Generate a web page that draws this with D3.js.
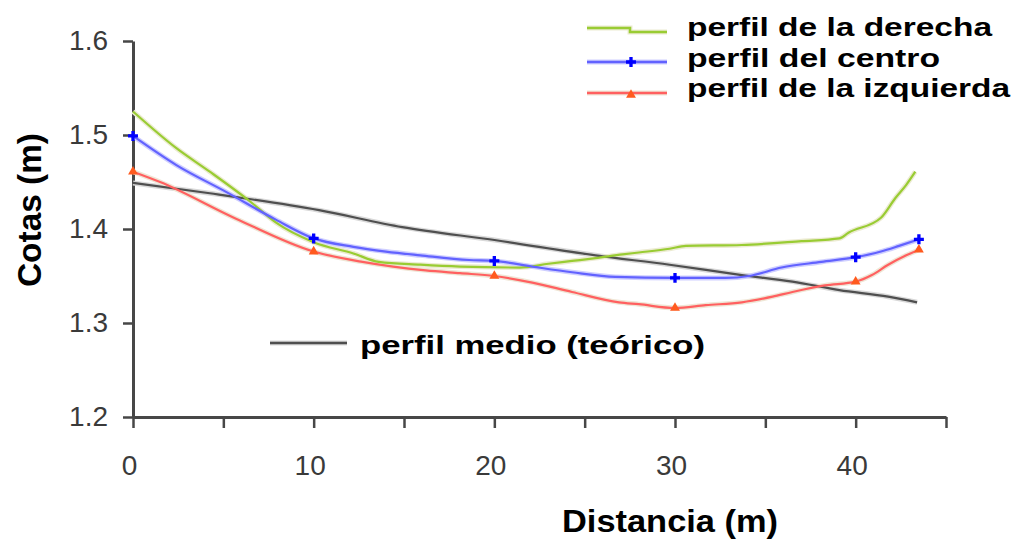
<!DOCTYPE html>
<html>
<head>
<meta charset="utf-8">
<script src="https://cdn.jsdelivr.net/npm/d3@7"></script>
<style>
  html, body { margin: 0; padding: 0; background: #ffffff; }
  svg { display: block; }
  text { font-family: "Liberation Sans", Arial, sans-serif; }
</style>
</head>
<body>
<svg id="chart" width="1012" height="541"></svg>
<script>
// ---- data ----
const xTickValues = [0, 5, 10, 15, 20, 25, 30, 35, 40, 45];
const xTickLabels = ["0", "", "10", "", "20", "", "30", "", "40", ""];
const yTickValues = [1.2, 1.3, 1.4, 1.5, 1.6];
const yTickLabels = ["1.2", "1.3", "1.4", "1.5", "1.6"];

// perfil de la derecha (green)
const distDerecha = [0, 2.4, 4.25, 6.5, 7.9, 10, 12.2, 13.6, 15.9, 18.1, 21.4, 23, 24.3, 25.6, 27.1, 28, 29.7, 30.6, 33.7, 37, 39.1, 39.6, 41.4, 42.2, 42.8, 43.3];
const cotaDerecha = [1.525, 1.486, 1.461, 1.429, 1.407, 1.386, 1.374, 1.365, 1.362, 1.360, 1.359, 1.363, 1.366, 1.369, 1.373, 1.375, 1.379, 1.382, 1.383, 1.387, 1.390, 1.396, 1.412, 1.433, 1.447, 1.461];

// perfil del centro (blue)
const distCentro = [0, 2.4, 5.2, 7.9, 10, 12.2, 14, 15.9, 18.6, 20, 22.1, 24.3, 26.7, 30, 32.8, 34.1, 35.9, 38.1, 40, 41.4, 42.4, 43.5];
const cotaCentro = [1.499, 1.468, 1.439, 1.410, 1.390, 1.381, 1.376, 1.372, 1.367, 1.366, 1.360, 1.354, 1.349, 1.348, 1.348, 1.350, 1.359, 1.365, 1.370, 1.376, 1.382, 1.389];
const markDistCentro = [0, 10, 20, 30, 40, 43.5];
const markCotaCentro = [1.499, 1.390, 1.366, 1.348, 1.370, 1.389];

// perfil de la izquierda (red)
const distIzquierda = [0, 1.5, 5.7, 10, 12.7, 14.4, 16.2, 18.1, 20, 22.1, 24.3, 26.9, 28, 30, 31.7, 33.7, 35.4, 36.5, 38.3, 40, 40.9, 41.8, 42.8, 43.5];
const cotaIzquierda = [1.461, 1.450, 1.411, 1.376, 1.365, 1.360, 1.356, 1.353, 1.350, 1.343, 1.333, 1.322, 1.320, 1.316, 1.319, 1.322, 1.328, 1.333, 1.340, 1.344, 1.351, 1.362, 1.372, 1.378];
const markDistIzquierda = [0, 10, 20, 30, 40, 43.5];
const markCotaIzquierda = [1.461, 1.376, 1.350, 1.316, 1.344, 1.378];

// perfil medio (teórico) (dark grey)
const distMedio = [0, 4.25, 10.3, 14.9, 20.1, 25.6, 29.7, 33.7, 36.5, 39.1, 41.8, 43.4];
const cotaMedio = [1.449, 1.438, 1.420, 1.402, 1.388, 1.372, 1.362, 1.351, 1.344, 1.335, 1.328, 1.322];

const legendLabels = ["perfil de la derecha", "perfil del centro", "perfil de la izquierda"];
const medioLabel = "perfil medio (teórico)";
const xTitle = "Distancia (m)";
const yTitle = "Cotas (m)";

// ---- drawing ----
const svg = d3.select("#chart");
svg.append("rect").attr("width", 1012).attr("height", 541).attr("fill", "#ffffff");

const x = d3.scaleLinear().domain([0, 45]).range([133, 946]);
const y = d3.scaleLinear().domain([1.2, 1.6]).range([417, 41]);

const axisColor = "#474747";

// y axis
const yAxis = svg.append("g").attr("transform", "translate(133,0)")
  .call(d3.axisLeft(y).tickValues(yTickValues)
        .tickFormat((d, i) => yTickLabels[i]).tickSize(10).tickSizeOuter(0).tickPadding(15));
// x axis
const xAxis = svg.append("g").attr("transform", "translate(0,417)")
  .call(d3.axisBottom(x).tickValues(xTickValues)
        .tickFormat((d, i) => xTickLabels[i]).tickSize(11).tickSizeOuter(0).tickPadding(27));

[xAxis, yAxis].forEach(g => {
  g.select(".domain").attr("stroke", axisColor).attr("stroke-width", 3);
  g.selectAll(".tick line").attr("stroke", axisColor).attr("stroke-width", 2.5);
  g.selectAll(".tick text").attr("fill", "#3a3a3a")
    .style("font-family", "'Liberation Sans', Arial, sans-serif").style("font-size", "28px");
});
xAxis.selectAll(".tick text").attr("dx", "-4");

// axis titles
svg.append("text")
  .attr("transform", "translate(41,210) rotate(-90)")
  .attr("text-anchor", "middle")
  .attr("font-size", 33).attr("font-weight", "bold").attr("fill", "#000")
  .attr("textLength", 154).attr("lengthAdjust", "spacingAndGlyphs")
  .text(yTitle);
svg.append("text")
  .attr("x", 562).attr("y", 532)
  .attr("font-size", 32).attr("font-weight", "bold").attr("fill", "#000")
  .attr("textLength", 216).attr("lengthAdjust", "spacingAndGlyphs")
  .text(xTitle);

// series
const line = d3.line().x(d => x(d[0])).y(d => y(d[1])).curve(d3.curveMonotoneX);
const zip = (a, b) => a.map((v, i) => [v, b[i]]);

const series = [
  { pts: zip(distMedio, cotaMedio), color: "#4f4f4f", halo: "#d9d9d9" },
  { pts: zip(distIzquierda, cotaIzquierda), color: "#ff6060", halo: "#efe6d6" },
  { pts: zip(distDerecha, cotaDerecha), color: "#99cc33", halo: "#ecebd2" },
  { pts: zip(distCentro, cotaCentro), color: "#6262ff", halo: "#cfcfff" }
];
series.forEach(s => {
  svg.append("path").attr("d", line(s.pts)).attr("fill", "none")
    .attr("stroke", s.halo).attr("stroke-width", 5).attr("stroke-linejoin", "round");
});
series.forEach(s => {
  svg.append("path").attr("d", line(s.pts)).attr("fill", "none")
    .attr("stroke", s.color).attr("stroke-width", 2.2).attr("stroke-linejoin", "round");
});

const crossSym = d3.symbol(d3.symbolCross).size(55);
const triSym = d3.symbol(d3.symbolTriangle).size(42);

svg.append("g").selectAll("path").data(zip(markDistIzquierda, markCotaIzquierda)).join("path")
  .attr("transform", d => `translate(${x(d[0])},${y(d[1])})`)
  .attr("d", triSym).attr("fill", "#ff5a1e");
svg.append("g").selectAll("path").data(zip(markDistCentro, markCotaCentro)).join("path")
  .attr("transform", d => `translate(${x(d[0])},${y(d[1])})`)
  .attr("d", crossSym).attr("fill", "#0000ff");

// legend (top right)
const lg = svg.append("g");
// green
lg.append("path").attr("d", "M587,28 H630 V32 H667").attr("fill", "none")
  .attr("stroke", "#ecebd2").attr("stroke-width", 5);
lg.append("path").attr("d", "M587,28 H630 V32 H667").attr("fill", "none")
  .attr("stroke", "#99cc33").attr("stroke-width", 2.5);
// blue
lg.append("line").attr("x1", 587).attr("x2", 667).attr("y1", 62).attr("y2", 62)
  .attr("stroke", "#cfcfff").attr("stroke-width", 5);
lg.append("line").attr("x1", 587).attr("x2", 667).attr("y1", 62).attr("y2", 62)
  .attr("stroke", "#6262ff").attr("stroke-width", 2.5);
lg.append("path").attr("transform", "translate(631,62)").attr("d", crossSym).attr("fill", "#0000ff");
// red
lg.append("line").attr("x1", 587).attr("x2", 667).attr("y1", 93).attr("y2", 93)
  .attr("stroke", "#efe6d6").attr("stroke-width", 5);
lg.append("line").attr("x1", 587).attr("x2", 667).attr("y1", 93).attr("y2", 93)
  .attr("stroke", "#ff6060").attr("stroke-width", 2.5);
lg.append("path").attr("transform", "translate(631,95)").attr("d", triSym).attr("fill", "#ff5a1e");

const legendBaselines = [36, 67, 97];
const legendWidths = [305, 253, 323];
legendLabels.forEach((t, i) => {
  lg.append("text").attr("x", 687).attr("y", legendBaselines[i])
    .attr("font-size", 25).attr("font-weight", "bold").attr("fill", "#000")
    .attr("textLength", legendWidths[i]).attr("lengthAdjust", "spacingAndGlyphs")
    .text(t);
});

// perfil medio legend
lg.append("line").attr("x1", 270).attr("x2", 347).attr("y1", 343).attr("y2", 343)
  .attr("stroke", "#d9d9d9").attr("stroke-width", 5);
lg.append("line").attr("x1", 270).attr("x2", 347).attr("y1", 343).attr("y2", 343)
  .attr("stroke", "#4f4f4f").attr("stroke-width", 2.5);
lg.append("text").attr("x", 360).attr("y", 354)
  .attr("font-size", 25).attr("font-weight", "bold").attr("fill", "#000")
  .attr("textLength", 345).attr("lengthAdjust", "spacingAndGlyphs")
  .text(medioLabel);
</script>
</body>
</html>
